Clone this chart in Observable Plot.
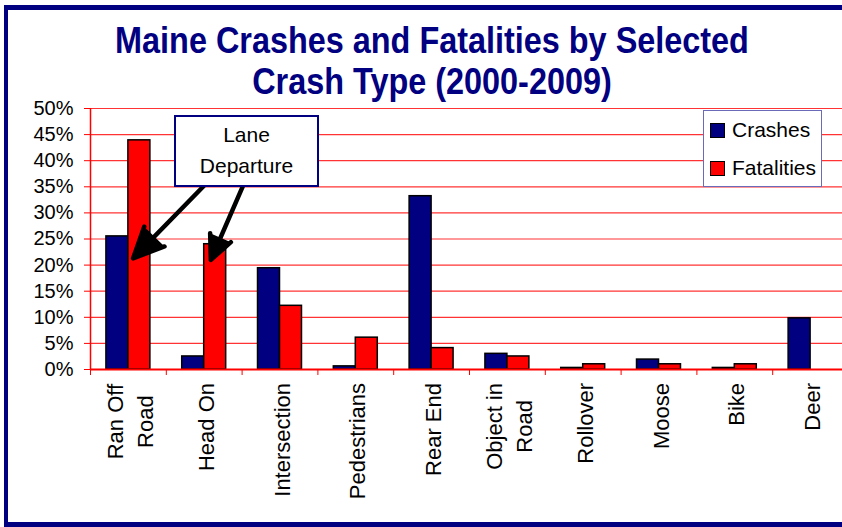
<!DOCTYPE html>
<html>
<head>
<meta charset="utf-8">
<script src="https://cdn.jsdelivr.net/npm/d3@7"></script>
<script src="https://cdn.jsdelivr.net/npm/@observablehq/plot@0.6"></script>
<style>
  html, body { margin: 0; padding: 0; background: #fff; }
  body { width: 842px; height: 527px; overflow: hidden; position: relative; font-family: "Liberation Sans", Arial, sans-serif; }
  #title { position: absolute; left: 0; top: 20px; width: 864px; text-align: center; font-weight: bold; font-size: 36px; line-height: 41px; color: #000080; transform: scaleX(0.9); transform-origin: 432px 0; white-space: nowrap; }
  #chart { position: absolute; left: 0; top: 100px; }
  #frame { position: absolute; left: 4px; top: 5px; width: 860px; height: 522px; box-sizing: border-box; border-left: 4px solid #000080; border-top: 5px solid #000080; border-bottom: 5px solid #000080; pointer-events: none; }
  #legend { position: absolute; left: 703px; top: 110px; width: 119px; height: 77px; box-sizing: border-box; border: 1.5px solid #6a6ab8; background: #fff; font-size: 21px; color: #000; }
  .lg { position: absolute; left: 6px; width: 110px; height: 24px; }
  .sw { position: absolute; left: 0; top: 0; width: 15px; height: 15px; box-sizing: border-box; border: 1.5px solid #000; }
  .lt { position: absolute; left: 22px; top: -5px; line-height: 24px; }
  #note { position: absolute; left: 174px; top: 115px; width: 145px; height: 72px; box-sizing: border-box; border: 2px solid #000080; background: #fff; font-size: 21px; line-height: 31px; text-align: center; color: #000; padding-top: 2px; }
</style>
</head>
<body>
<div id="title">Maine Crashes and Fatalities by Selected<br>Crash Type (2000-2009)</div>
<div id="chart"></div>
<div id="note">Lane<br>Departure</div>
<div id="legend">
  <div class="lg" style="top:12px"><div class="sw" style="background:#000080"></div><div class="lt">Crashes</div></div>
  <div class="lg" style="top:50px"><div class="sw" style="background:#ff0000"></div><div class="lt">Fatalities</div></div>
</div>
<div id="frame"></div>
<script>
// ---- data ----
const categories = ["Ran Off\nRoad", "Head On", "Intersection", "Pedestrians", "Rear End", "Object in\nRoad", "Rollover", "Moose", "Bike", "Deer"];
const crashes    = [25.5, 2.5, 19.4, 0.6, 33.2, 3.0, 0.3, 1.9, 0.3, 9.8];
const fatalities = [43.9, 24.0, 12.2, 6.1, 4.1, 2.5, 1.0, 1.0, 1.0, 0.0];
const yTicks = [0, 5, 10, 15, 20, 25, 30, 35, 40, 45, 50];
const seriesNames = ["Crashes", "Fatalities"];
// annotation arrows (x in category-slot units, y in %)
const arrowFromX = [1.491, 2.009];
const arrowFromY = [35.1, 35.1];
const arrowToX   = [0.562, 1.588];
const arrowToY   = [21.3, 21.0];

const data = categories.map((c, i) => ({i, cat: c, crashes: crashes[i], fatalities: fatalities[i]}));
const arrows = arrowFromX.map((x, i) => ({x1: x, y1: arrowFromY[i], x2: arrowToX[i], y2: arrowToY[i]}));

const plot = Plot.plot({
  width: 842,
  height: 427,
  marginTop: 8,
  marginBottom: 158,
  marginLeft: 90,
  marginRight: 0,
  style: {fontFamily: "'Liberation Sans', Arial, sans-serif", fontSize: "20px", color: "#000", background: "transparent", overflow: "visible"},
  x: {domain: [0, 10], range: [90, 848], axis: null},
  y: {domain: [0, 50], label: null, axis: null},
  marks: [
    Plot.ruleY(yTicks.filter(v => v > 0), {stroke: "#ff3333", strokeWidth: 1.2}),
    Plot.rectY(data, {x1: d => d.i + 0.21, x2: d => d.i + 0.5, y: "crashes", fill: "#000080", stroke: "#000", strokeWidth: 1.5}),
    Plot.rectY(data, {x1: d => d.i + 0.5, x2: d => d.i + 0.79, y: "fatalities", fill: "#ff0000", stroke: "#000", strokeWidth: 1.5}),
    Plot.ruleX([0], {y1: 0, y2: 50, stroke: "#ff0000", strokeWidth: 1.5}),
    Plot.ruleY([0], {stroke: "#ff0000", strokeWidth: 2}),
    Plot.axisY({ticks: yTicks, tickFormat: d => d + "%", tickSize: 6, tickPadding: 11, stroke: "#ff0000", fill: "#000", fontSize: 20, label: null}),
    Plot.axisX({ticks: d3.range(0, 11), tickFormat: () => "", tickSize: 6, stroke: "#ff0000", label: null}),
    Plot.text(data, {x: d => d.i + 0.5, y: 0, text: "cat", rotate: -90, textAnchor: "middle", fontSize: 22, lineHeight: 1.364, dy: 60, fill: "#000"}),
    Plot.arrow(arrows, {x1: "x1", y1: "y1", x2: "x2", y2: "y2", stroke: "#000", fill: "#000", strokeWidth: 4.5, strokeLinejoin: "miter", headLength: 16, headAngle: 50})
  ]
});
document.getElementById("chart").appendChild(plot);

// align rotated category labels so that their top edge sits just below the axis
const svgTop = plot.getBoundingClientRect().top;
plot.querySelectorAll('g[aria-label="text"] text').forEach(el => {
  const r = el.getBoundingClientRect();
  const delta = 283 - (r.top - svgTop);
  el.setAttribute("transform", `translate(0,${delta}) ` + (el.getAttribute("transform") || ""));
});
</script>
</body>
</html>
